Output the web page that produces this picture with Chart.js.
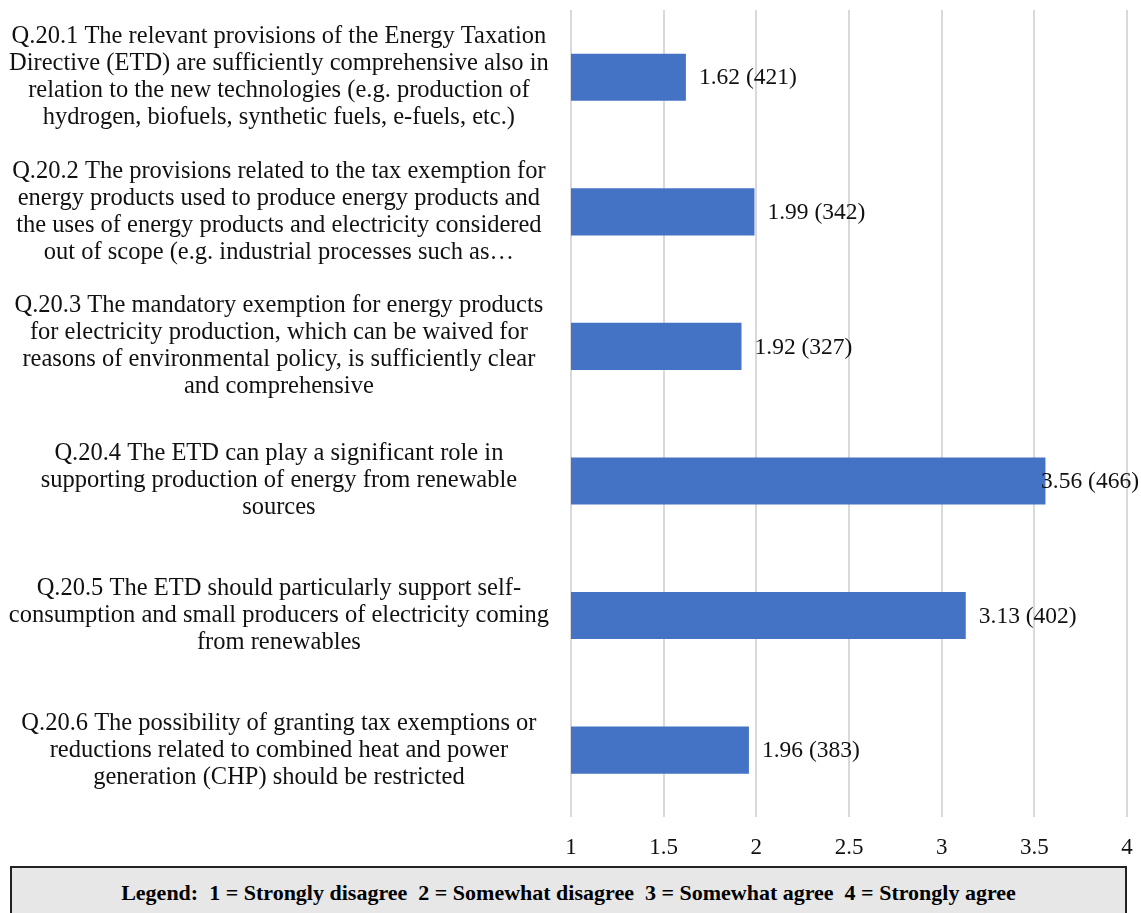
<!DOCTYPE html>
<html>
<head>
<meta charset="utf-8">
<script src="https://cdn.jsdelivr.net/npm/chart.js@4"></script>
<style>
  body { margin: 0; background: #fff; }
  #wrap { position: relative; width: 1141px; height: 880px; }
  #legendBox {
    position: absolute; left: 10px; top: 866px; width: 1117px; height: 60px;
    border: 2px solid #222; background: #e7e7e7;
    font: bold 22px "Liberation Serif", "Times New Roman", serif; color: #000;
    text-align: center; padding-top: 12px; box-sizing: border-box; white-space: pre;
  }
</style>
</head>
<body>
<div id="wrap"><canvas id="bar-chart"></canvas></div>
<div id="legendBox">Legend:  1 = Strongly disagree  2 = Somewhat disagree  3 = Somewhat agree  4 = Strongly agree</div>
<script>

const questions = [
  ["Q.20.1 The relevant provisions of the Energy Taxation", "Directive (ETD) are sufficiently comprehensive also in", "relation to the new technologies (e.g. production of", "hydrogen, biofuels, synthetic fuels, e-fuels, etc.)"],
  ["Q.20.2 The provisions related to the tax exemption for", "energy products used to produce energy products and", "the uses of energy products and electricity considered", "out of scope (e.g. industrial processes such as…"],
  ["Q.20.3 The mandatory exemption for energy products", "for electricity production, which can be waived for", "reasons of environmental policy, is sufficiently clear", "and comprehensive"],
  ["Q.20.4 The ETD can play a significant role in", "supporting production of energy from renewable", "sources"],
  ["Q.20.5 The ETD should particularly support self-", "consumption and small producers of electricity coming", "from renewables"],
  ["Q.20.6 The possibility of granting tax exemptions or", "reductions related to combined heat and power", "generation (CHP) should be restricted"]
];
const averages = [1.62, 1.99, 1.92, 3.56, 3.13, 1.96];
const answers = [421, 342, 327, 466, 402, 383];
const xTicks = [1, 1.5, 2, 2.5, 3, 3.5, 4];

const serif = '"Liberation Serif", "Times New Roman", serif';

// writes "avg (n)" just past the end of every bar
const barLabels = {
  id: 'barLabels',
  afterDatasetsDraw(chart) {
    const ctx = chart.ctx;
    const meta = chart.getDatasetMeta(0);
    ctx.save();
    ctx.font = '23.5px ' + serif;
    ctx.fillStyle = '#111';
    ctx.textBaseline = 'middle';
    ctx.textAlign = 'left';
    meta.data.forEach((bar, i) => {
      const txt = averages[i].toFixed(2) + ' (' + answers[i] + ')';
      const w = ctx.measureText(txt).width;
      let x = bar.x + 13;
      if (x + w > chart.width - 2) x = chart.width - 2 - w;
      ctx.fillText(txt, x, bar.y + 1);
    });
    ctx.restore();
  }
};

new Chart(document.getElementById("bar-chart"), {
  type: 'bar',
  data: {
    labels: questions,
    datasets: [
      {
        label: "Average",
        backgroundColor: "#4472c4",
        data: averages,
        categoryPercentage: 0.7,
        barPercentage: 0.5
      }
    ]
  },
  options: {
    indexAxis: 'y',
    responsive: true,
    maintainAspectRatio: false,
    animation: false,
    layout: { padding: { top: 10, right: 14, bottom: 1, left: 0 } },
    plugins: {
      legend: { display: false },
      tooltip: { enabled: false }
    },
    scales: {
      x: {
        min: 1,
        max: 4,
        afterBuildTicks: axis => { axis.ticks = xTicks.map(v => ({ value: v })); },
        afterFit: axis => { axis.paddingRight = 0; },
        grid: { color: '#d9d9d9', lineWidth: 2, drawTicks: false },
        border: { display: false },
        ticks: {
          padding: 17,
          color: '#111',
          font: { family: serif, size: 23 },
          callback: v => String(v)
        }
      },
      y: {
        grid: { display: false, drawTicks: false },
        border: { display: false },
        afterFit: axis => {
          axis.width = 571;
          axis.paddingTop = 0;
          axis.paddingBottom = 0;
        },
        ticks: {
          crossAlign: 'center',
          padding: 22,
          color: '#111',
          font: { family: serif, size: 24.5, lineHeight: '27px' }
        }
      }
    }
  },
  plugins: [barLabels]
});
</script>
</body>
</html>
